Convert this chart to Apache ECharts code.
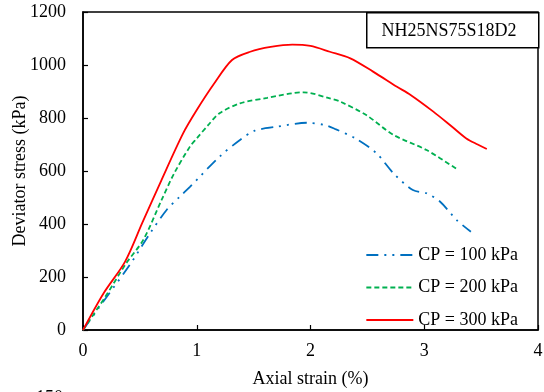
<!DOCTYPE html>
<html>
<head>
<meta charset="utf-8">
<script src="https://cdn.jsdelivr.net/npm/echarts@6/dist/echarts.min.js"></script>
<style>html,body{margin:0;padding:0;background:#fff}#c{width:544px;height:392px}</style>
</head>
<body>
<div id="c"></div>
<script>
const seriesNames = ['CP = 100 kPa', 'CP = 200 kPa', 'CP = 300 kPa'];
const xTicks = [0, 1, 2, 3, 4];
const yTicks = [0, 200, 400, 600, 800, 1000, 1200];
const specimenLabel = 'NH25NS75S18D2';

const cp100X = [0, 0.2, 0.41, 0.59, 0.735, 0.85, 0.94, 1.2, 1.38, 1.51, 1.7, 1.97, 2.13, 2.22, 2.4, 2.58, 2.73, 2.9, 3.02, 3.14, 3.285, 3.41];
const cp100Y = [0, 120, 245, 365, 453, 503, 540, 654, 717, 752, 767, 782, 773, 758, 722, 667, 591, 528, 516, 484, 415, 371];

const cp200X = [0, 0.2, 0.38, 0.53, 0.69, 0.8, 0.94, 1.0, 1.1, 1.2, 1.38, 1.62, 1.94, 2.17, 2.26, 2.49, 2.73, 3.02, 3.29];
const cp200Y = [0, 128, 252, 340, 490, 590, 692, 723, 773, 818, 855, 876, 897, 874, 862, 811, 736, 679, 606];

const cp300X = [0, 0.18, 0.37, 0.52, 0.69, 0.88, 1.0, 1.15, 1.31, 1.47, 1.65, 1.84, 2.0, 2.17, 2.35, 2.55, 2.76, 2.88, 3.08, 3.25, 3.37, 3.47, 3.55];
const cp300Y = [0, 138, 258, 403, 566, 742, 830, 928, 1019, 1050, 1068, 1077, 1072, 1050, 1025, 975, 918, 887, 824, 765, 723, 700, 683];

const zip = (xs, ys) => xs.map((x, i) => [x, ys[i]]);
const FONT = '"Liberation Serif", "Times New Roman", serif';
const FS = 18;

const chart = echarts.init(document.getElementById('c'), null, {renderer: 'canvas'});
chart.setOption({
  animation: false,
  backgroundColor: '#fff',
  textStyle: {fontFamily: FONT, color: '#000'},
  grid: {left: 83, top: 12, right: 6, bottom: 62, containLabel: false, outerBoundsMode: 'none',
         show: true, borderColor: '#000', borderWidth: 1.5, backgroundColor: 'transparent'},
  xAxis: {
    type: 'value', min: xTicks[0], max: xTicks[xTicks.length - 1], interval: 1,
    name: 'Axial strain (%)', nameLocation: 'middle', nameGap: 40, nameMoveOverlap: false,
    nameTextStyle: {fontFamily: FONT, fontSize: FS, color: '#000'},
    axisLine: {lineStyle: {color: '#000', width: 1.5}},
    axisTick: {inside: true, length: 5, lineStyle: {color: '#000', width: 1.2}},
    axisLabel: {fontFamily: FONT, fontSize: FS, color: '#000', margin: 12, formatter: v => String(v)},
    splitLine: {show: false}
  },
  yAxis: {
    type: 'value', min: yTicks[0], max: yTicks[yTicks.length - 1], interval: 200,
    name: 'Deviator stress (kPa)', nameLocation: 'middle', nameGap: 54, nameMoveOverlap: false,
    nameTextStyle: {fontFamily: FONT, fontSize: FS, color: '#000'},
    axisLine: {lineStyle: {color: '#000', width: 1.5}},
    axisTick: {inside: true, length: 5, lineStyle: {color: '#000', width: 1.2}},
    axisLabel: {fontFamily: FONT, fontSize: FS, color: '#000', margin: 17, formatter: v => String(v)},
    splitLine: {show: false}
  },
  legend: {
    orient: 'vertical', right: 26, top: 246, padding: 0,
    itemWidth: 47, itemHeight: 16, itemGap: 14.5,
    itemStyle: {opacity: 0},
    textStyle: {fontFamily: FONT, fontSize: FS, color: '#000'},
    data: seriesNames
  },
  series: [
    {name: seriesNames[0], type: 'line', data: zip(cp100X, cp100Y), symbol: 'none', smooth: 0.3,
     lineStyle: {color: '#0070C0', width: 1.8, type: [12, 6, 2, 6, 2, 6]}, itemStyle: {color: '#0070C0'}},
    {name: seriesNames[1], type: 'line', data: zip(cp200X, cp200Y), symbol: 'none', smooth: 0.3,
     lineStyle: {color: '#00B050', width: 1.8, type: [5, 3]}, itemStyle: {color: '#00B050'}},
    {name: seriesNames[2], type: 'line', data: zip(cp300X, cp300Y), symbol: 'none', smooth: 0.3,
     lineStyle: {color: '#FF0000', width: 1.8, type: 'solid'}, itemStyle: {color: '#FF0000'}}
  ],
  graphic: [
    {type: 'rect', left: 366, top: 12, shape: {width: 172, height: 35},
     style: {fill: '#fff', stroke: '#000', lineWidth: 1.5}, z: 10},
    {type: 'text', x: 449, y: 31, z: 11,
     style: {text: specimenLabel, font: FS + 'px ' + FONT, fill: '#000', textAlign: 'center', textVerticalAlign: 'middle'}},
    {type: 'text', x: 36, y: 389, z: 11,
     style: {text: '150', font: FS + 'px ' + FONT, fill: '#000', textAlign: 'left', textVerticalAlign: 'top'}}
  ]
});
</script>
</body>
</html>
